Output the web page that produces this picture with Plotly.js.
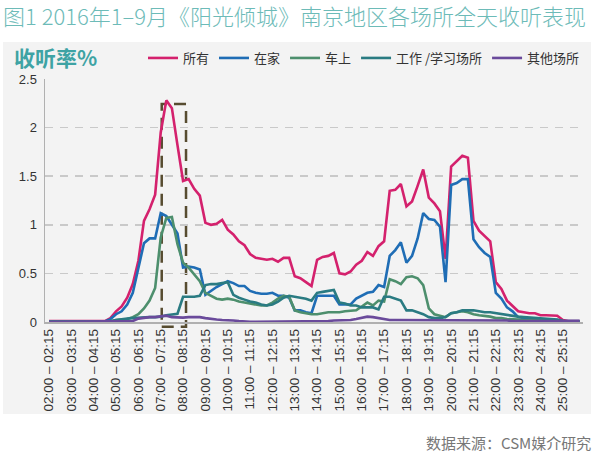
<!DOCTYPE html>
<html>
<head>
<meta charset="utf-8">
<script src="https://cdn.plot.ly/plotly-3.0.1.min.js"></script>
<style>html,body{margin:0;padding:0;background:#fff;}#chart{width:600px;height:456px;}</style>
</head>
<body>
<div id="chart"></div>
<script>
const categories = [
"02:00 – 02:15","02:15 – 02:30","02:30 – 02:45","02:45 – 03:00",
"03:00 – 03:15","03:15 – 03:30","03:30 – 03:45","03:45 – 04:00",
"04:00 – 04:15","04:15 – 04:30","04:30 – 04:45","04:45 – 05:00",
"05:00 – 05:15","05:15 – 05:30","05:30 – 05:45","05:45 – 06:00",
"06:00 – 06:15","06:15 – 06:30","06:30 – 06:45","06:45 – 07:00",
"07:00 – 07:15","07:15 – 07:30","07:30 – 07:45","07:45 – 08:00",
"08:00 – 08:15","08:15 – 08:30","08:30 – 08:45","08:45 – 09:00",
"09:00 – 09:15","09:15 – 09:30","09:30 – 09:45","09:45 – 10:00",
"10:00 – 10:15","10:15 – 10:30","10:30 – 10:45","10:45 – 11:00",
"11:00 – 11:15","11:15 – 11:30","11:30 – 11:45","11:45 – 12:00",
"12:00 – 12:15","12:15 – 12:30","12:30 – 12:45","12:45 – 13:00",
"13:00 – 13:15","13:15 – 13:30","13:30 – 13:45","13:45 – 14:00",
"14:00 – 14:15","14:15 – 14:30","14:30 – 14:45","14:45 – 15:00",
"15:00 – 15:15","15:15 – 15:30","15:30 – 15:45","15:45 – 16:00",
"16:00 – 16:15","16:15 – 16:30","16:30 – 16:45","16:45 – 17:00",
"17:00 – 17:15","17:15 – 17:30","17:30 – 17:45","17:45 – 18:00",
"18:00 – 18:15","18:15 – 18:30","18:30 – 18:45","18:45 – 19:00",
"19:00 – 19:15","19:15 – 19:30","19:30 – 19:45","19:45 – 20:00",
"20:00 – 20:15","20:15 – 20:30","20:30 – 20:45","20:45 – 21:00",
"21:00 – 21:15","21:15 – 21:30","21:30 – 21:45","21:45 – 22:00",
"22:00 – 22:15","22:15 – 22:30","22:30 – 22:45","22:45 – 23:00",
"23:00 – 23:15","23:15 – 23:30","23:30 – 23:45","23:45 – 24:00",
"24:00 – 24:15","24:15 – 24:30","24:30 – 24:45","24:45 – 25:00",
"25:00 – 25:15","25:15 – 25:30","25:30 – 25:45","25:45 – 26:00"
];

const tickLabels = [
"02:00 – 02:15","03:00 – 03:15","04:00 – 04:15","05:00 – 05:15",
"06:00 – 06:15","07:00 – 07:15","08:00 – 08:15","09:00 – 09:15",
"10:00 – 10:15","11:00 – 11:15","12:00 – 12:15","13:00 – 13:15",
"14:00 – 14:15","15:00 – 15:15","16:00 – 16:15","17:00 – 17:15",
"18:00 – 18:15","19:00 – 19:15","20:00 – 20:15","21:00 – 21:15",
"22:00 – 22:15","23:00 – 23:15","24:00 – 24:15","25:00 – 25:15"
];

const seriesNames = ["所有", "在家", "车上", "工作 /学习场所", "其他场所"];

const allPlaces = [
0.01,0.01,0.01,0.01,0.01,0.01,0.01,0.01,0.01,0.01,0.01,
0.04,0.11,0.16,0.25,0.39,0.63,1.04,1.16,1.31,1.95,
2.28,2.2,1.82,1.45,1.47,1.37,1.3,1.02,1.0,1.01,
1.05,0.95,0.9,0.83,0.79,0.7,0.66,0.65,0.64,0.65,
0.62,0.66,0.66,0.47,0.45,0.41,0.37,0.64,0.67,0.68,
0.71,0.5,0.49,0.52,0.59,0.63,0.72,0.68,0.78,0.83,
1.35,1.36,1.42,1.19,1.24,1.4,1.57,1.28,1.22,1.14,
0.65,1.6,1.65,1.71,1.69,1.04,0.94,0.89,0.83,0.41,
0.34,0.22,0.17,0.11,0.1,0.09,0.09,0.07,0.07,0.07,
0.065,0.02,0.01,0.01,0.01
];

const atHome = [
0.005,0.005,0.005,0.005,0.005,0.005,0.005,0.005,0.005,0.005,0.005,
0.03,0.08,0.11,0.18,0.3,0.56,0.81,0.86,0.86,1.12,
1.09,1.0,0.91,0.56,0.57,0.56,0.54,0.28,0.32,0.36,
0.39,0.42,0.4,0.37,0.37,0.32,0.3,0.29,0.29,0.3,
0.27,0.27,0.25,0.12,0.12,0.1,0.09,0.27,0.27,0.27,
0.27,0.18,0.18,0.18,0.24,0.27,0.3,0.31,0.38,0.36,
0.68,0.74,0.82,0.61,0.68,0.86,1.12,1.06,1.05,0.98,
0.41,1.41,1.43,1.47,1.47,0.85,0.77,0.71,0.67,0.3,
0.24,0.15,0.11,0.05,0.04,0.03,0.03,0.02,0.02,0.02,
0.02,0.01,0.01,0.01,0.01
];

const inCar = [
0.005,0.005,0.005,0.005,0.005,0.005,0.005,0.005,0.005,0.005,0.005,
0.008,0.02,0.025,0.03,0.05,0.08,0.14,0.22,0.35,0.87,
1.07,1.08,0.8,0.61,0.56,0.49,0.42,0.3,0.27,0.24,
0.23,0.24,0.23,0.21,0.2,0.19,0.18,0.17,0.17,0.2,
0.24,0.27,0.26,0.12,0.1,0.09,0.08,0.08,0.09,0.1,
0.1,0.1,0.11,0.115,0.12,0.16,0.2,0.17,0.22,0.21,
0.44,0.42,0.39,0.46,0.47,0.45,0.38,0.14,0.08,0.065,
0.05,0.09,0.1,0.11,0.1,0.08,0.07,0.065,0.055,0.04,
0.04,0.03,0.03,0.025,0.02,0.02,0.02,0.02,0.02,0.02,
0.015,0.01,0.005,0.005,0.005
];

const atWork = [
0.005,0.005,0.005,0.005,0.005,0.005,0.005,0.005,0.005,0.005,0.005,
0.008,0.02,0.03,0.035,0.04,0.045,0.045,0.05,0.05,0.055,
0.07,0.08,0.085,0.26,0.26,0.26,0.27,0.38,0.39,0.39,
0.4,0.41,0.28,0.25,0.23,0.21,0.2,0.18,0.17,0.18,
0.21,0.25,0.27,0.26,0.25,0.24,0.22,0.3,0.31,0.32,
0.33,0.2,0.19,0.17,0.17,0.15,0.15,0.15,0.13,0.26,
0.26,0.24,0.22,0.12,0.12,0.1,0.08,0.05,0.04,0.04,
0.05,0.09,0.1,0.12,0.12,0.12,0.11,0.1,0.1,0.09,
0.08,0.07,0.065,0.055,0.05,0.045,0.04,0.035,0.03,0.03,
0.025,0.01,0.005,0.005,0.005
];

const otherPlaces = [
0.003,0.003,0.003,0.003,0.003,0.003,0.003,0.003,0.003,0.003,0.003,
0.003,0.003,0.003,0.003,0.01,0.035,0.045,0.05,0.05,0.06,
0.065,0.05,0.045,0.045,0.05,0.05,0.05,0.04,0.03,0.025,
0.02,0.02,0.015,0.01,0.005,0.003,0.003,0.003,0.003,0.003,
0.003,0.003,0.003,0.003,0.003,0.003,0.005,0.01,0.01,0.01,
0.015,0.015,0.015,0.02,0.03,0.045,0.055,0.05,0.04,0.03,
0.02,0.02,0.02,0.02,0.02,0.015,0.015,0.015,0.015,0.015,
0.015,0.02,0.02,0.02,0.02,0.02,0.02,0.02,0.02,0.02,
0.02,0.015,0.01,0.01,0.01,0.01,0.01,0.01,0.01,0.01,
0.01,0.01,0.01,0.01,0.01
];

const seriesValues = [allPlaces, atHome, inCar, atWork, otherPlaces];
const seriesColors = ["#d4216d", "#1f6db5", "#4d8f6d", "#2a7b82", "#6a4a9b"];

// layout geometry (pixels)
const W = 600, H = 456, ML = 45, MR = 17, MT = 79, MB = 134;
const PW = W - ML - MR, PH = H - MT - MB;
const px = v => (v - ML) / PW;
const py = v => (H - MB - v) / PH;

const traces = seriesNames.map((name, k) => ({
  type: "scatter",
  mode: "lines",
  name: name,
  x: categories,
  y: seriesValues[k],
  line: { color: seriesColors[k], width: 2.6 },
  hoverinfo: "x+y+name"
}));

const cjk = '"Noto Sans CJK SC", "Noto Sans", sans-serif';
const latin = '"Liberation Sans", Arial, sans-serif';

const layout = {
  width: W, height: H,
  margin: { l: ML, r: MR, t: MT, b: MB, pad: 0 },
  paper_bgcolor: "#ffffff",
  plot_bgcolor: "rgba(0,0,0,0)",
  font: { family: cjk, color: "#333333" },
  title: {
    text: "图1 2016年1–9月《阳光倾城》南京地区各场所全天收听表现",
    font: { family: cjk, size: 22, color: "#6dbbb8", weight: 300 },
    x: 3 / W, xref: "container", xanchor: "left",
    y: 1 - 17 / H, yref: "container", yanchor: "middle"
  },
  showlegend: true,
  legend: {
    orientation: "h",
    x: px(143), xanchor: "left",
    y: py(58), yanchor: "middle",
    font: { family: cjk, size: 13, color: "#333333" },
    bgcolor: "rgba(0,0,0,0)",
    itemwidth: 30,
    traceorder: "normal"
  },
  xaxis: {
    type: "category",
    categoryorder: "array",
    categoryarray: categories,
    range: [-0.72, 95.61],
    tickmode: "array",
    tickvals: tickLabels,
    ticktext: tickLabels,
    tickangle: -90,
    tickfont: { family: latin, size: 13.5, color: "#333333" },
    showgrid: false,
    zeroline: false,
    showline: true,
    linecolor: "#b0b0b0",
    linewidth: 1.5,
    ticks: ""
  },
  yaxis: {
    range: [0, 2.5],
    tickmode: "array",
    tickvals: [0, 0.5, 1, 1.5, 2, 2.5],
    ticktext: ["0", "0.5", "1", "1.5", "2", "2.5"],
    tickfont: { family: latin, size: 13, color: "#333333" },
    showgrid: true,
    gridcolor: "#c9c9c9",
    gridwidth: 1.5,
    griddash: "8px,7px",
    zeroline: false,
    showline: true,
    linecolor: "#b0b0b0",
    linewidth: 1.5,
    ticks: "",
    ticklabelstandoff: 4
  },
  shapes: [
    {
      type: "rect", xref: "paper", yref: "paper", layer: "below",
      x0: px(3), x1: px(591), y0: py(414), y1: py(42),
      fillcolor: "#f3f3f3", line: { width: 0 }
    },
    {
      type: "rect", xref: "x", yref: "paper", layer: "below",
      x0: 20.18, x1: 24.53, y0: py(326.7), y1: py(104),
      fillcolor: "rgba(0,0,0,0)",
      line: { color: "#574c30", width: 2.5, dash: "12px,7px" }
    }
  ],
  annotations: [
    {
      text: "<b>收听率%</b>", xref: "paper", yref: "paper",
      x: px(12), y: py(57), xanchor: "left", yanchor: "middle",
      showarrow: false, font: { family: cjk, size: 21, color: "#3ea3a4" }
    },
    {
      text: "数据来源：CSM媒介研究", xref: "paper", yref: "paper",
      x: px(593), y: py(442), xanchor: "right", yanchor: "middle",
      showarrow: false, font: { family: cjk, size: 15, color: "#777777" }
    }
  ]
};

Plotly.newPlot("chart", traces, layout, { displayModeBar: false, staticPlot: true });
</script>
</body>
</html>
